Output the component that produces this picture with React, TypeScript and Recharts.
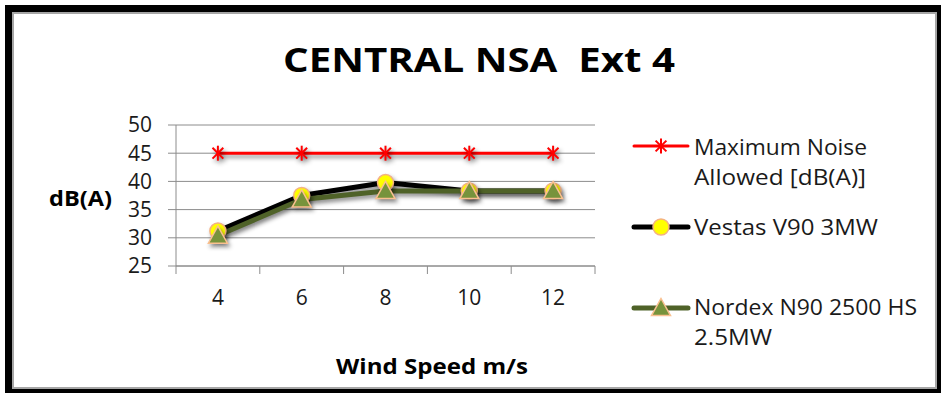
import React from "react";
import { LineChart, Line, XAxis, YAxis, CartesianGrid } from "recharts";

const windSpeeds = [4, 6, 8, 10, 12];
const bandEdges = [3, 5, 7, 9, 11, 13];
const maxNoise = [45, 45, 45, 45, 45];
const vestas = [31.2, 37.5, 39.8, 38.3, 38.3];
const nordex = [30.4, 36.8, 38.3, 38.3, 38.3];
const yTicks = [25, 30, 35, 40, 45, 50];

const data = windSpeeds.map((speed, i) => ({
  speed,
  maxNoise: maxNoise[i],
  vestas: vestas[i],
  nordex: nordex[i],
}));

const FONT = "'Open Sans', Lato, sans-serif";
const GRID = "#8c8c8c";
const TEXT = "#1a1a1a";

function StarDot({ cx, cy }: { cx: number; cy: number }) {
  const r = 7.5;
  const d = r * 0.72;
  return (
    <g stroke="#ff0000" strokeWidth={2}>
      <line x1={cx} y1={cy - r} x2={cx} y2={cy + r} />
      <line x1={cx - d} y1={cy - d} x2={cx + d} y2={cy + d} />
      <line x1={cx - d} y1={cy + d} x2={cx + d} y2={cy - d} />
    </g>
  );
}

function CircleDot({ cx, cy }: { cx: number; cy: number }) {
  return <circle cx={cx} cy={cy} r={8} fill="#ffff00" stroke="#f4b183" strokeWidth={1.5} />;
}

function TriangleDot({ cx, cy }: { cx: number; cy: number }) {
  const s = 9.5;
  return (
    <path
      d={`M${cx},${cy - s} L${cx + s},${cy + s * 0.8} L${cx - s},${cy + s * 0.8} Z`}
      fill="#77933c"
      stroke="#fac090"
      strokeWidth={1.5}
    />
  );
}

function XTick(props: any) {
  const { x, y, payload } = props;
  const v = payload.value;
  if (bandEdges.includes(v)) {
    return <line x1={x} y1={y - 8} x2={x} y2={y} stroke={GRID} strokeWidth={1} />;
  }
  return (
    <text x={x} y={y + 16} dy="0.71em" textAnchor="middle" fontSize={21} fontFamily={FONT} fill={TEXT}>
      {v}
    </text>
  );
}

// legend rows: text lines with their widths in the picture
const legendItems = [
  { lines: ["Maximum Noise", "Allowed [dB(A)]"], widths: [173, 172], color: "#ff0000", width: 3, Dot: StarDot, lineY: 146, base: 155 },
  { lines: ["Vestas V90 3MW"], widths: [184], color: "#000000", width: 5, Dot: CircleDot, lineY: 227, base: 235 },
  { lines: ["Nordex N90 2500 HS", "2.5MW"], widths: [223, 78], color: "#4f6228", width: 5, Dot: TriangleDot, lineY: 308, base: 315 },
];

export default function App() {
  return (
    <div style={{ position: "relative", width: 941, height: 393, overflow: "hidden", background: "#fff" }}>
      <style>{`body{margin:0}
        .recharts-line-curve, .recharts-line-dots { filter: drop-shadow(2px 3px 2px rgba(0,0,0,0.45)); }`}</style>
      <div
        style={{
          position: "absolute",
          left: 5,
          top: 5,
          width: 936,
          height: 388,
          boxSizing: "border-box",
          borderStyle: "solid",
          borderColor: "#000",
          borderWidth: "7px 4px 4px 7px",
        }}
      >
        <div style={{ width: "100%", height: "100%", boxSizing: "border-box", border: "2px solid #a6a6a6" }} />
      </div>

      <div style={{ position: "absolute", left: 0, top: 0 }}>
        <LineChart width={941} height={393} data={data} margin={{ top: 125, left: 116, right: 346, bottom: 87 }}>
          <CartesianGrid vertical={false} stroke={GRID} />
          <XAxis
            type="number"
            dataKey="speed"
            domain={[3, 13]}
            ticks={[...bandEdges, ...windSpeeds].sort((a, b) => a - b)}
            interval={0}
            height={40}
            tickSize={8}
            tickMargin={0}
            tickLine={false}
            axisLine={{ stroke: GRID }}
            tick={<XTick />}
          />
          <YAxis
            domain={[25, 50]}
            ticks={yTicks}
            interval={0}
            width={60}
            tickSize={8}
            tickMargin={16}
            axisLine={{ stroke: GRID }}
            tickLine={{ stroke: GRID }}
            tick={{ fontSize: 21, fontFamily: FONT, fill: TEXT }}
          />
          <Line
            dataKey="maxNoise"
            stroke="#ff0000"
            strokeWidth={3}
            isAnimationActive={false}
            dot={(p: any) => <StarDot key={p.index} cx={p.cx} cy={p.cy} />}
          />
          <Line
            dataKey="vestas"
            stroke="#000000"
            strokeWidth={5}
            isAnimationActive={false}
            dot={(p: any) => <CircleDot key={p.index} cx={p.cx} cy={p.cy} />}
          />
          <Line
            dataKey="nordex"
            stroke="#4f6228"
            strokeWidth={5}
            isAnimationActive={false}
            dot={(p: any) => <TriangleDot key={p.index} cx={p.cx} cy={p.cy} />}
          />
        </LineChart>
      </div>

      <svg width={941} height={393} style={{ position: "absolute", left: 0, top: 0, pointerEvents: "none" }}>
        <text x={283} y={72} textLength={392} lengthAdjust="spacingAndGlyphs" fontSize={34} fontWeight="bold" fontFamily={FONT} fill="#000">
          CENTRAL NSA{"\u00a0\u00a0"}Ext 4
        </text>
        <text x={49} y={206} textLength={63} lengthAdjust="spacingAndGlyphs" fontSize={21} fontWeight="bold" fontFamily={FONT} fill="#000">
          dB(A)
        </text>
        <text x={336} y={374} textLength={192} lengthAdjust="spacingAndGlyphs" fontSize={21} fontWeight="bold" fontFamily={FONT} fill="#000">
          Wind Speed m/s
        </text>
        {legendItems.map((item) => (
          <g key={item.lines[0]}>
            <line x1={634} x2={688} y1={item.lineY} y2={item.lineY} stroke={item.color} strokeWidth={item.width} strokeLinecap="round" />
            <item.Dot cx={661} cy={item.lineY} />
            {item.lines.map((t, i) => (
              <text
                key={t}
                x={694}
                y={item.base + i * 30}
                textLength={item.widths[i]}
                lengthAdjust="spacingAndGlyphs"
                fontSize={21}
                fontFamily={FONT}
                fill={TEXT}
              >
                {t}
              </text>
            ))}
          </g>
        ))}
      </svg>
    </div>
  );
}
